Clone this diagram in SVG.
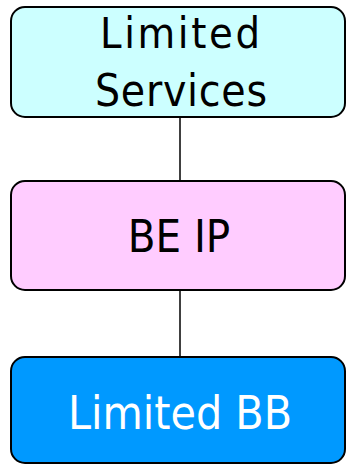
<svg xmlns="http://www.w3.org/2000/svg" width="346" height="464" viewBox="0 0 346 464">
<style>
.box{stroke:#000;stroke-width:2}
.t{font-family:"DejaVu Sans Condensed","DejaVu Sans",Verdana,sans-serif;font-stretch:condensed;text-anchor:middle}
.c{stroke:#000;stroke-width:1.5;fill:none}
</style>
<rect width="346" height="464" fill="#fff"/>
<g id="connectors">
<line class="c" x1="180" y1="117" x2="180" y2="181"/>
<line class="c" x1="180" y1="290" x2="180" y2="357"/>
</g>
<g id="limited-services">
<rect class="box" x="11" y="7" width="334" height="110" rx="14" fill="#ccffff"/>
<text class="t" x="180" y="48" font-size="43" fill="#000" textLength="160" lengthAdjust="spacing">Limited</text>
<text class="t" x="181" y="106" font-size="44" fill="#000" textLength="172" lengthAdjust="spacing">Services</text>
</g>
<g id="be-ip">
<rect class="box" x="11" y="181" width="334" height="109" rx="14" fill="#ffccff"/>
<text class="t" x="179" y="252" font-size="45" fill="#000">BE IP</text>
</g>
<g id="limited-bb">
<rect class="box" x="11" y="357" width="334" height="106" rx="14" fill="#0099ff"/>
<text class="t" x="180" y="429" font-size="46" fill="#fff">Limited BB</text>
</g>
</svg>
